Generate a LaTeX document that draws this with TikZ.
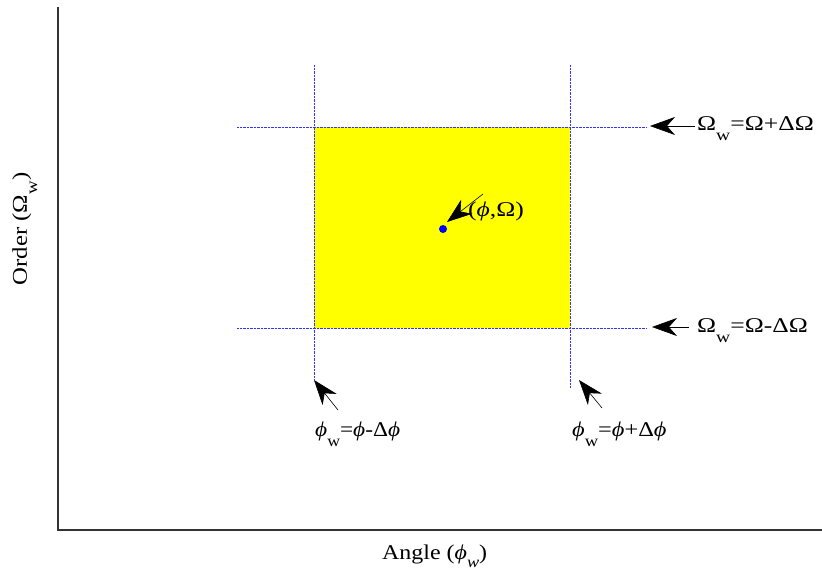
\documentclass[tikz,border=0pt]{standalone}
\usepackage{fontspec}
\setmainfont{Liberation Serif}
\usetikzlibrary{arrows.meta}
\newcommand\subw{\raisebox{-10pt}{\fontsize{16}{16}\selectfont w}}
\newcommand\subwi{\raisebox{-8pt}{\fontsize{16}{16}\selectfont\itshape w}}
\newcommand\ph{\textit{ϕ}}
\newcommand\wide[2]{\scalebox{#1}[1]{#2}}
\definecolor{pureyellow}{rgb}{1,1,0}
\begin{document}
\begin{tikzpicture}[x=1pt,y=-1pt,
  lbl/.style={inner sep=0pt,font=\fontsize{21}{24}\selectfont},
  axis/.style={draw=black!80,line width=1.2pt},
  guide/.style={draw=blue!80,line width=0.7pt,dash pattern=on 1pt off 0.4pt},
  pointer/.style={draw=black,line width=0.6pt,-{Stealth[length=25pt,width=18pt,inset=8pt]}}]
\useasboundingbox (0,0) rectangle (822,581);
% yellow region
\fill[pureyellow] (314,127) rectangle (570,328);
% guide lines
\draw[guide] (237,127) -- (647,127);
\draw[guide] (237,328) -- (647,328);
\draw[guide] (314,65) -- (314,380);
\draw[guide] (570,65) -- (570,388);
% axes
\coordinate (o) at (58,530);
\coordinate (ytop) at (58,7);
\coordinate (xend) at (822,530);
\draw[axis] (ytop) -- (o) -- (xend);
% point
\node[circle,fill=blue,inner sep=0pt,minimum size=8pt] (pt) at (443,229) {};
\node[lbl,anchor=base west] (ptl) at (468,216) {\wide{1.22}{(\ph,Ω)}};
\coordinate (ptt) at (483,194);
\coordinate (pth) at (447,222);
\draw[pointer] (ptt) -- (pth);
% top right
\node[lbl,anchor=base west] (tl) at (697,130) {\wide{1.22}{Ω\subw=Ω+ΔΩ}};
\coordinate (tt) at (695,126);
\coordinate (th) at (650,126);
\draw[pointer] (tt) -- (th);
% lower right
\node[lbl,anchor=base west] (bl) at (697,332) {\wide{1.22}{Ω\subw=Ω-ΔΩ}};
\coordinate (bt) at (689,327);
\coordinate (bh) at (652,327);
\draw[pointer] (bt) -- (bh);
% bottom left
\node[lbl,anchor=base west] (ll) at (315,436) {\wide{1.11}{\ph\subw=\ph-Δ\ph}};
\coordinate (lt) at (338,410);
\coordinate (lh) at (314,380);
\draw[pointer] (lt) -- (lh);
% bottom right
\node[lbl,anchor=base west] (rl) at (572,436) {\wide{1.16}{\ph\subw=\ph+Δ\ph}};
\coordinate (rt) at (602,408);
\coordinate (rh) at (579,380);
\draw[pointer] (rt) -- (rh);
% axis labels
\node[lbl,anchor=base west] (xl) at (382,559) {\wide{1.14}{Angle (\ph\subwi)}};
\node[lbl,rotate=90,anchor=base] (yl) at (27,229) {\wide{1.18}{Order (Ω\subw)}};
\end{tikzpicture}
\end{document}
